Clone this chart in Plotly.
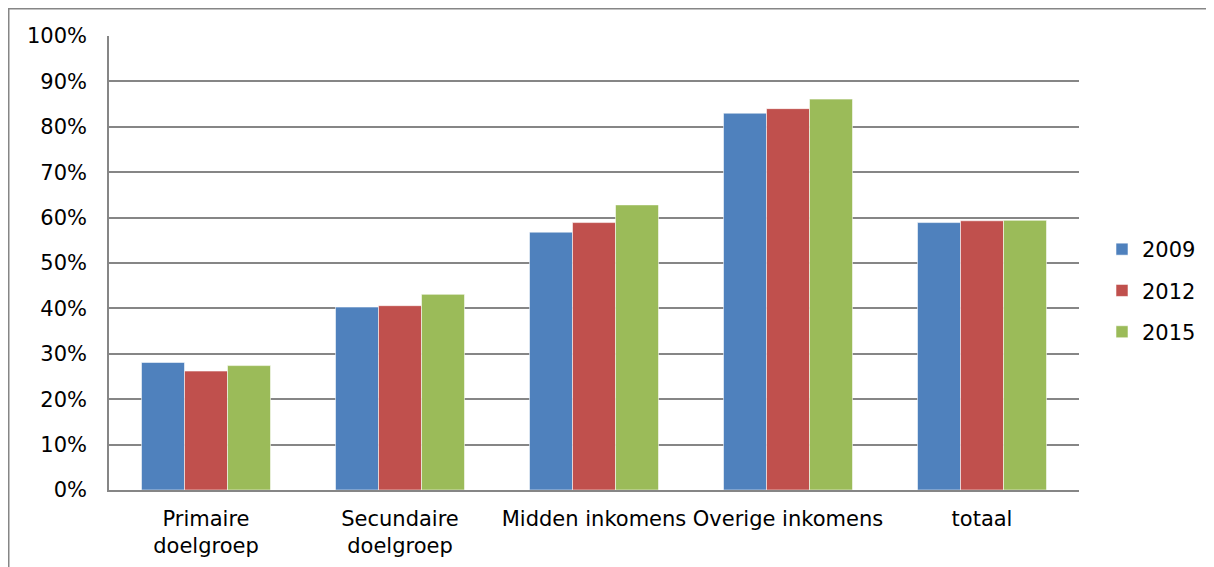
import plotly.graph_objects as go

categories = ["Primaire<br>doelgroep", "Secundaire<br>doelgroep", "Midden inkomens",
              "Overige inkomens", "totaal"]
years = ["2009", "2012", "2015"]
values_2009 = [0.281, 0.403, 0.568, 0.830, 0.589]
values_2012 = [0.262, 0.406, 0.589, 0.840, 0.593]
values_2015 = [0.274, 0.431, 0.628, 0.861, 0.594]
series = [values_2009, values_2012, values_2015]
colors = ["#4F81BD", "#C0504D", "#9BBB59"]
y_ticks = [0, 0.1, 0.2, 0.3, 0.4, 0.5, 0.6, 0.7, 0.8, 0.9, 1.0]
y_tick_labels = ["0%", "10%", "20%", "30%", "40%", "50%", "60%", "70%", "80%", "90%", "100%"]

FONT = "DejaVu Sans, Verdana, sans-serif"
GRID = "#868686"

fig = go.Figure()
for name, vals, col in zip(years, series, colors):
    fig.add_trace(go.Bar(
        x=categories, y=vals, name=name, legendgroup=name,
        marker=dict(color=col, line=dict(color="rgba(255,255,255,0.55)", width=1)),
    ))

# page body has an 8px margin, so the figure is drawn 8px in from the window edge
W, H = 1206, 559
L, R, T, B = 101, 135, 28, 77
pw, ph = W - L - R, H - T - B

def px_x(v):
    return (v - L) / pw

def px_y(v):
    return (H - B - v) / ph

fig.update_layout(
    width=W, height=H,
    margin=dict(l=L, r=R, t=T, b=B, pad=0, autoexpand=False),
    paper_bgcolor="white", plot_bgcolor="white",
    barmode="group", bargap=0.335, bargroupgap=0,
    font=dict(family=FONT, size=21, color="black"),
    legend=dict(x=px_x(1094), y=px_y(282.5), xanchor="left", yanchor="middle",
                font=dict(size=21), tracegroupgap=11, borderwidth=0,
                bgcolor="rgba(0,0,0,0)"),
    showlegend=True,
    xaxis=dict(showline=True, linecolor=GRID, linewidth=1.5, showgrid=False,
               ticks="", tickfont=dict(size=21), ticklabelstandoff=9,
               fixedrange=True),
    yaxis=dict(range=[0, 1], tickvals=y_ticks, ticktext=y_tick_labels,
               showline=True, linecolor=GRID, linewidth=1.5,
               showgrid=True, gridcolor=GRID, gridwidth=1.5,
               ticks="", tickfont=dict(size=21), ticklabelstandoff=16,
               zeroline=False, fixedrange=True),
    shapes=[dict(type="rect", xref="paper", yref="paper",
                 x0=px_x(0.75), x1=px_x(1230), y0=px_y(0.75), y1=px_y(600),
                 line=dict(color=GRID, width=1.5), fillcolor="rgba(0,0,0,0)",
                 layer="below")],
)

fig.write_html("out.html", config={"displayModeBar": False})
